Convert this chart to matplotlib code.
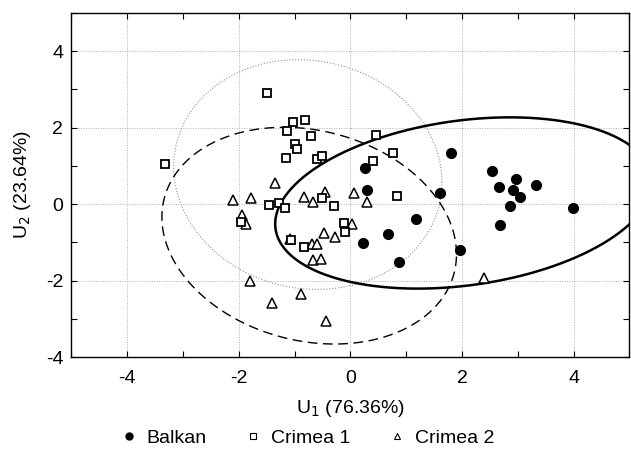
import numpy as np
import matplotlib
matplotlib.use("Agg")
import matplotlib.pyplot as plt
from matplotlib.lines import Line2D

plt.rcParams['font.family'] = ['Liberation Sans', 'DejaVu Sans']
plt.rcParams['axes.unicode_minus'] = False

# ---- data ----
balkan_x = [0.26, 0.30, 1.81, 1.61, 2.53, 2.97, 2.66, 2.92, 3.32, 3.03, 2.86, 3.99, 2.68, 1.18, 0.68, 0.23, 0.87, 1.97]
balkan_y = [0.94, 0.37, 1.33, 0.28, 0.86, 0.67, 0.44, 0.38, 0.50, 0.19, -0.06, -0.11, -0.55, -0.38, -0.78, -1.03, -1.51, -1.20]

crimea1_x = [-1.49, -3.33, -1.03, -0.82, -1.14, -0.71, -0.99, -0.95, -1.16, -0.60, -0.51, 0.45, 0.77, 0.40,
             0.83, -0.51, -0.30, -1.46, -1.28, -1.18, -1.96, -0.83, -0.11, -0.10, -1.07]
crimea1_y = [2.90, 1.06, 2.15, 2.21, 1.92, 1.78, 1.58, 1.45, 1.21, 1.17, 1.26, 1.81, 1.33, 1.14,
             0.22, 0.16, -0.04, -0.03, 0.03, -0.10, -0.48, -1.11, -0.50, -0.74, -0.94]

crimea2_x = [-1.35, -2.10, -1.79, -0.84, -0.67, -0.46, 0.07, 0.30, -1.95, -1.87, -1.08, -0.69, -0.60,
             -0.47, -0.28, -0.67, -0.52, 0.02, -1.80, -0.89, -1.40, -0.43, 2.39]
crimea2_y = [0.56, 0.10, 0.15, 0.19, 0.06, 0.33, 0.28, 0.06, -0.28, -0.51, -0.92, -1.05, -1.05,
             -0.75, -0.86, -1.46, -1.44, -0.53, -2.01, -2.36, -2.60, -3.05, -1.92]

# ellipse parameters (center, covariance)
balkan_center = [2.03, 0.03]
balkan_cov = [[11.42, 1.85], [1.85, 5.02]]
crimea1_center = [-0.765, 0.775]
crimea1_cov = [[5.78, -0.5], [-0.5, 9.03]]
crimea2_center = [-0.74, -0.825]
crimea2_cov = [[6.97, -1.28], [-1.28, 8.04]]

labels = ['Balkan', 'Crimea 1', 'Crimea 2']
x_ticks = [-4, -2, 0, 2, 4]
y_ticks = [-4, -2, 0, 2, 4]


def ellipse_xy(center, cov, n=400):
    L = np.linalg.cholesky(np.array(cov, dtype=float))
    t = np.linspace(0, 2 * np.pi, n)
    pts = L @ np.vstack([np.cos(t), np.sin(t)])
    return pts[0] + center[0], pts[1] + center[1]


fig = plt.figure(figsize=(6.31, 4.75), dpi=100)
ax = fig.add_axes([0.1133, 0.2484, 0.8843, 0.7242])

ax.set_xlim(-5, 5)
ax.set_ylim(-4, 5)
ax.set_xticks(x_ticks)
ax.set_yticks(y_ticks)
ax.set_xticks(np.arange(-5, 6, 1), minor=True)
ax.set_yticks(np.arange(-4, 6, 1), minor=True)
ax.tick_params(which='both', direction='in', top=True, right=True, length=4, width=0.8, labelsize=14)
ax.tick_params(axis='x', pad=9)
ax.tick_params(axis='y', pad=6)
ax.grid(True, which='major', color='#b0b0b0', linestyle=(0, (1, 1.5)), linewidth=0.7)
ax.set_axisbelow(True)
for s in ax.spines.values():
    s.set_linewidth(1.0)
    s.set_color('black')

# ellipses
ex, ey = ellipse_xy(crimea1_center, crimea1_cov)
ax.plot(ex, ey, color='#909090', linestyle=(0, (1, 1.6)), linewidth=0.8, zorder=2)
ex, ey = ellipse_xy(crimea2_center, crimea2_cov)
ax.plot(ex, ey, color='black', linestyle=(0, (7, 4)), linewidth=1.0, zorder=2)
ex, ey = ellipse_xy(balkan_center, balkan_cov)
ax.plot(ex, ey, color='black', linestyle='-', linewidth=1.8, zorder=2)

# points
ax.plot(crimea2_x, crimea2_y, linestyle='none', marker='^', markersize=7, markerfacecolor='white',
        markeredgecolor='black', markeredgewidth=1.1, zorder=3)
ax.plot(crimea1_x, crimea1_y, linestyle='none', marker='s', markersize=6, markerfacecolor='white',
        markeredgecolor='black', markeredgewidth=1.3, zorder=4)
ax.plot(balkan_x, balkan_y, linestyle='none', marker='o', markersize=7, markerfacecolor='black',
        markeredgecolor='black', zorder=5)

ax.set_xlabel('U$_1$ (76.36%)', fontsize=14, labelpad=8)
ax.set_ylabel('U$_2$ (23.64%)', fontsize=14, labelpad=9)

handles = [
    Line2D([], [], linestyle='none', marker='o', markersize=5, markerfacecolor='black', markeredgecolor='black'),
    Line2D([], [], linestyle='none', marker='s', markersize=4.5, markerfacecolor='white', markeredgecolor='black', markeredgewidth=0.8),
    Line2D([], [], linestyle='none', marker='^', markersize=5, markerfacecolor='white', markeredgecolor='black', markeredgewidth=0.8),
]
fig.legend(handles, labels, loc='center', bbox_to_anchor=(0.486, 0.078), ncol=3, frameon=False,
           fontsize=14, handletextpad=0.4, columnspacing=1.9, handlelength=1.0)

fig.savefig('out.png', dpi=100)
